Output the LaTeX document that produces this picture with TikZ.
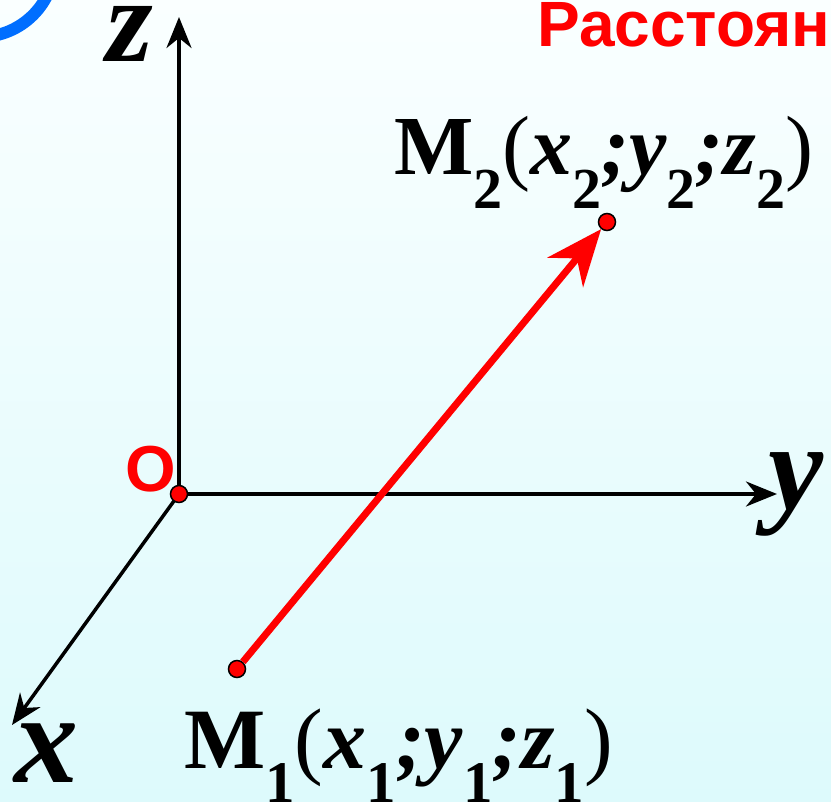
\documentclass[tikz,border=0pt]{standalone}
\usepackage{fontspec}
\setmainfont{Liberation Serif}
\newfontfamily\labsans{Liberation Sans}
\usetikzlibrary{arrows.meta}
\definecolor{bgtop}{RGB}{250,255,255}
\definecolor{bgbot}{RGB}{221,250,252}
\definecolor{arcblue}{RGB}{0,110,255}
\definecolor{ptred}{RGB}{255,0,0}
\newcommand\subd[2]{\raisebox{-0.4em}{\fontsize{#1}{#1}\selectfont\textbf{#2}}}
\newcommand\ptlab[3]{\fontsize{#1}{#1}\selectfont
  \textbf{M}\subd{#2}{#3}(\textbf{\textit{x}}\subd{#2}{#3}\textbf{\textit{;}}\textbf{\textit{y}}\subd{#2}{#3}\textbf{\textit{;}}\textbf{\textit{z}}\subd{#2}{#3})}
\tikzset{
  axisline/.style={line width=3.5pt, -{Stealth[length=31pt,width=25pt,inset=10pt]}},
  vecline/.style={ptred, line width=7pt, -{Stealth[length=56pt,width=46pt,inset=18pt]}},
  ptdot/.style={circle, fill=ptred, draw=black, line width=1.5pt, minimum size=17pt, inner sep=0pt},
  axlab/.style={inner sep=0pt, anchor=base west},
  ptname/.style={inner sep=0pt, anchor=base west},
}
\begin{document}
\begin{tikzpicture}[x=1pt,y=-1pt]
\useasboundingbox (0,0) rectangle (831,802);
\clip (0,0) rectangle (831,802);
\shade[top color=bgtop, bottom color=bgbot] (0,0) rectangle (831,802);
\draw[arcblue, line width=12pt] (-20,-38) circle[radius=75];
% coordinates
\coordinate (O) at (179,494);
\coordinate (ztip) at (179,17);
\coordinate (ytip) at (777,494);
\coordinate (xtip) at (12,725);
% axes
\draw[axisline] (O) -- (ztip);
\draw[axisline] (O) -- (ytip);
\draw[axisline] (O) -- (xtip);
% points
\node[ptdot] (m1) at (237,669) {};
\node[ptdot] (m2) at (607,222) {};
\node[ptdot] (o) at (O) {};
\draw[vecline] (m1) -- (m2);
% labels
\node[axlab, font=\fontsize{120}{120}\selectfont\bfseries\itshape] (zl) at (106,62) {z};
\node[axlab, font=\fontsize{124}{124}\selectfont\bfseries\itshape] (yl) at (768,510) {y};
\node[axlab, font=\fontsize{128}{128}\selectfont\bfseries\itshape] (xl) at (14,782) {x};
\node[inner sep=0pt, anchor=base west, text=ptred, font=\labsans\fontsize{65}{65}\selectfont\bfseries] (ol) at (125,492) {O};
\node[ptname] (m2l) at (394,175) {\ptlab{84}{58}{2}};
\node[ptname] (m1l) at (184,768) {\ptlab{86}{59}{1}};
\node[inner sep=0pt, anchor=base west, text=ptred, font=\labsans\fontsize{64}{64}\selectfont\bfseries] (title) at (537,47) {Расстоян};
\end{tikzpicture}
\end{document}
